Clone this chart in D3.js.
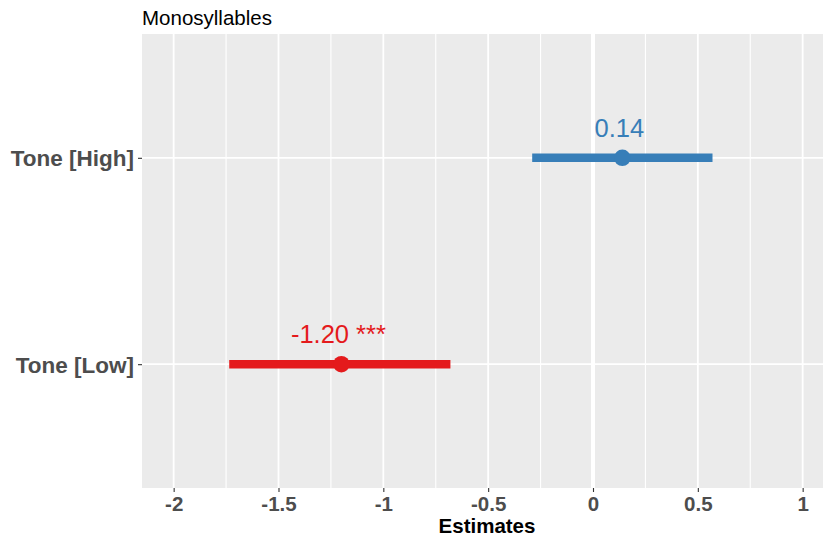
<!DOCTYPE html>
<html>
<head>
<meta charset="utf-8">
<script src="https://cdn.jsdelivr.net/npm/d3@7"></script>
<style>
  html, body { margin: 0; padding: 0; background: #fff; }
  svg { display: block; font-family: Arial, "Liberation Sans", sans-serif; }
</style>
</head>
<body>
<svg id="chart" width="823" height="537"></svg>
<script>
// Model terms, estimates and 95% confidence intervals
const terms = ["Tone [High]", "Tone [Low]"];
const estimates = [0.14, -1.20];
const ciLow = [-0.29, -1.735];
const ciHigh = [0.57, -0.68];
const stars = ["", " ***"];
const colors = ["#377EB8", "#E41A1C"];
const xTicks = [-2, -1.5, -1, -0.5, 0, 0.5, 1];
const xMinor = [-1.75, -1.25, -0.75, -0.25, 0.25, 0.75];

const panel = { left: 142, right: 823, top: 34, bottom: 488 };
const svg = d3.select("#chart");

const x = d3.scaleLinear().domain([-2.151, 1.097]).range([panel.left, panel.right]);
const y = d3.scalePoint().domain(terms).range([panel.top, panel.bottom]).padding(0.6);

// panel background
svg.append("rect")
  .attr("x", panel.left).attr("y", panel.top)
  .attr("width", panel.right - panel.left).attr("height", panel.bottom - panel.top)
  .attr("fill", "#EBEBEB");

const grid = svg.append("g");
grid.selectAll(".minor").data(xMinor).join("line")
  .attr("x1", d => x(d)).attr("x2", d => x(d))
  .attr("y1", panel.top).attr("y2", panel.bottom)
  .attr("stroke", "#fff").attr("stroke-width", 1.1);
grid.selectAll(".major").data(xTicks).join("line")
  .attr("x1", d => x(d)).attr("x2", d => x(d))
  .attr("y1", panel.top).attr("y2", panel.bottom)
  .attr("stroke", "#fff").attr("stroke-width", 1.8);
grid.selectAll(".hmajor").data(terms).join("line")
  .attr("x1", panel.left).attr("x2", panel.right)
  .attr("y1", d => y(d)).attr("y2", d => y(d))
  .attr("stroke", "#fff").attr("stroke-width", 1.8);
// reference line at zero
grid.append("line")
  .attr("x1", x(0)).attr("x2", x(0))
  .attr("y1", panel.top).attr("y2", panel.bottom)
  .attr("stroke", "#fff").attr("stroke-width", 4);

// x axis
const xAxis = svg.append("g")
  .attr("transform", `translate(0,${panel.bottom})`)
  .call(d3.axisBottom(x).tickValues(xTicks).tickSize(4).tickPadding(5)
    .tickFormat(d => String(d)));
xAxis.select(".domain").remove();
xAxis.selectAll(".tick line").attr("stroke", "#333").attr("stroke-width", 1.1);
xAxis.selectAll(".tick text")
  .attr("fill", "#4D4D4D").attr("font-size", 20.5).attr("font-weight", "bold")
  .attr("dy", "0.7em");

// y axis
const yAxis = svg.append("g")
  .attr("transform", `translate(${panel.left},0)`)
  .call(d3.axisLeft(y).tickSize(4).tickPadding(4));
yAxis.select(".domain").remove();
yAxis.selectAll(".tick line").attr("stroke", "#333").attr("stroke-width", 1.1);
yAxis.selectAll(".tick text")
  .attr("fill", "#4D4D4D").attr("font-size", 22.5).attr("font-weight", "bold")
  .attr("dy", "0.36em");

// confidence intervals and estimates
const rows = terms.map((t, i) => ({ term: t, est: estimates[i], lo: ciLow[i], hi: ciHigh[i], star: stars[i], color: colors[i] }));
const marks = svg.append("g");
marks.selectAll(".ci").data(rows).join("line")
  .attr("x1", d => x(d.lo)).attr("x2", d => x(d.hi))
  .attr("y1", d => y(d.term)).attr("y2", d => y(d.term))
  .attr("stroke", d => d.color).attr("stroke-width", 8.4);
marks.selectAll(".pt").data(rows).join("circle")
  .attr("cx", d => x(d.est)).attr("cy", d => y(d.term)).attr("r", 8.3)
  .attr("fill", d => d.color);
marks.selectAll(".lbl").data(rows).join("text")
  .attr("x", d => x(d.est) - 3).attr("y", d => y(d.term) - 21)
  .attr("text-anchor", "middle")
  .attr("font-size", 25.5).attr("fill", d => d.color)
  .text(d => d.est.toFixed(2) + d.star);

// title and axis title
svg.append("text")
  .attr("x", panel.left).attr("y", 25)
  .attr("font-size", 20.5).attr("fill", "#000")
  .text("Monosyllables");
svg.append("text")
  .attr("x", 487).attr("y", 533)
  .attr("text-anchor", "middle")
  .attr("font-size", 20.5).attr("font-weight", "bold").attr("fill", "#000")
  .text("Estimates");
</script>
</body>
</html>
